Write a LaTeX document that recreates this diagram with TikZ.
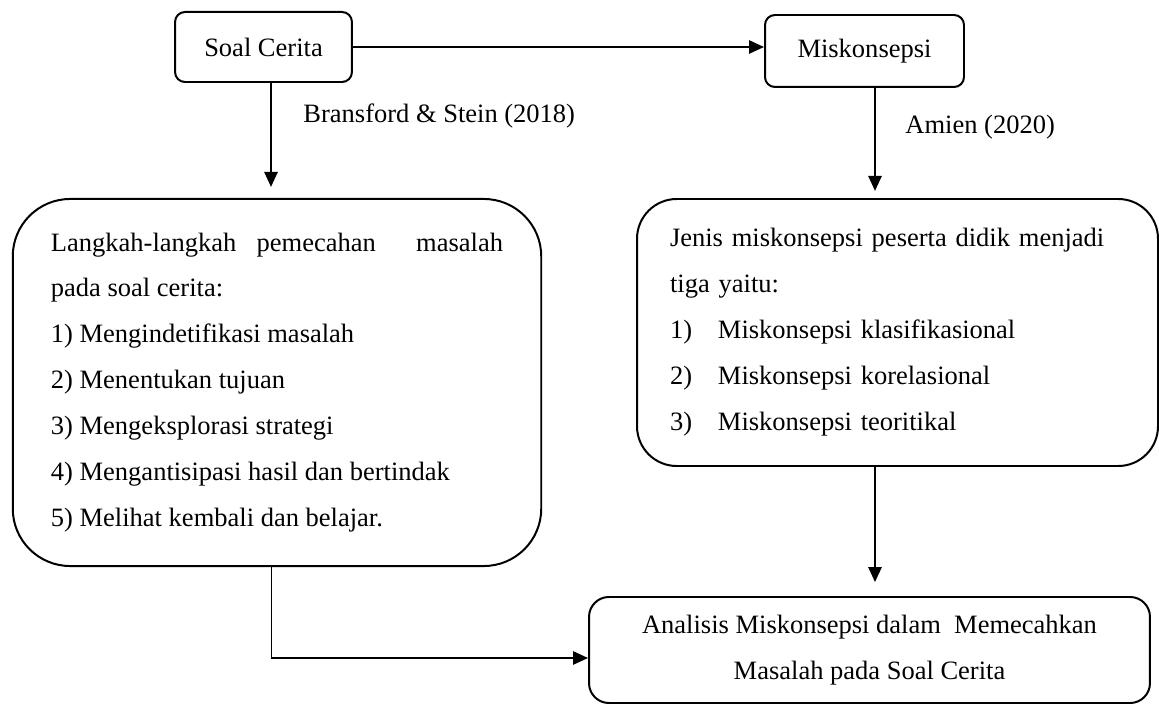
\documentclass[tikz,border=0pt]{standalone}
\usepackage{fontspec}
\setmainfont{Liberation Serif}
\usetikzlibrary{arrows.meta}
\setlength{\parindent}{0pt}

\begin{document}
\begin{tikzpicture}[x=0.4528pt, y=-0.4528pt,
    box/.style={draw, line width=0.9pt, inner sep=0pt, font=\fontsize{12}{20.8}\selectfont},
    arr/.style={line width=0.9pt, -{Triangle[length=6.8pt,width=6pt]}}]
    \useasboundingbox (0,0) rectangle (1159,704);

    % draw top boxes
    \node[box, rounded corners=4.5pt, minimum width=80.1pt, minimum height=31.7pt] (soal) at (263.5,47) {Soal Cerita};
    \node[box, rounded corners=4.5pt, minimum width=90.1pt, minimum height=32.6pt] (misk) at (864.5,51) {Miskonsepsi};

    % draw big boxes
    \node[box, rounded corners=26pt, minimum width=239.3pt, minimum height=166.2pt, text width=204.7pt, align=justify] (langkah) at (277,382.5)
      {Langkah-langkah pemecahan\ \ masalah pada soal cerita:\par
       1) Mengindetifikasi masalah\par
       2) Menentukan tujuan\par
       3) Mengeksplorasi strategi\par
       4) Mengantisipasi hasil dan bertindak\par
       5) Melihat kembali dan belajar.};
    \node[box, rounded corners=18pt, minimum width=235.9pt, minimum height=120.9pt, text width=206pt, align=left] (jenis) at (897.5,332.5)
      {Jenis miskonsepsi peserta didik menjadi\\
       tiga yaitu:\\
       \makebox[21.7pt][l]{1)}Miskonsepsi klasifikasional\\
       \makebox[21.7pt][l]{2)}Miskonsepsi korelasional\\
       \makebox[21.7pt][l]{3)}Miskonsepsi teoritikal};
    \node[box, rounded corners=9pt, minimum width=254pt, minimum height=48pt, align=center] (analisis) at (869.5,650)
      {Analisis Miskonsepsi dalam\ \ Memecahkan\\Masalah pada Soal Cerita};

    % draw labels
    \node[anchor=base west, font=\fontsize{12}{14}\selectfont, inner sep=0pt] (lblL) at (303,123) {Bransford \& Stein (2018)};
    \node[anchor=base west, font=\fontsize{12}{14}\selectfont, inner sep=0pt] (lblR) at (905,134) {Amien (2020)};

    % columns of the vertical arrows
    \coordinate (colL) at (271,0);
    \coordinate (colR) at (875,0);
    \coordinate (turn) at (271,658);

    % draw arrows
    \draw[arr] (soal.east) -- (soal.east -| misk.west);
    \draw[arr, shorten >=5pt] (soal.south -| colL) -- (langkah.north -| colL);
    \draw[arr, shorten >=3.2pt] (misk.south -| colR) -- (jenis.north -| colR);
    \draw[arr, shorten >=6.3pt] (jenis.south -| colR) -- (analisis.north -| colR);
    \draw[line width=0.45pt] (langkah.south -| colL) -- (turn);
    \draw[arr] (turn) -- (turn -| analisis.west);
\end{tikzpicture}
\end{document}
